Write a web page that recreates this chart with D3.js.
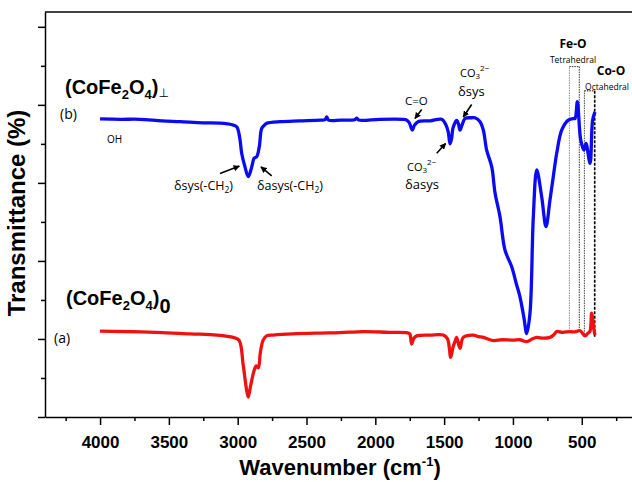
<!DOCTYPE html>
<html>
<head>
<meta charset="utf-8">
<script src="https://cdnjs.cloudflare.com/ajax/libs/d3/7.8.5/d3.min.js"></script>
<style>
  body { margin: 0; background: #fff; }
  svg { display: block; }
</style>
</head>
<body>
<svg id="chart" width="632" height="482"></svg>
<script>
// spectrum (b), blue
const waveB = [4000, 3850, 3710, 3550, 3419, 3250, 3128, 3040, 3007, 2985, 2971, 2947, 2923, 2898, 2881,
  2862, 2843, 2825, 2800, 2789, 2692, 2550, 2400, 2365, 2353, 2340, 2250, 2150, 2135, 2120, 1966, 1800,
  1777, 1755, 1740, 1731, 1715, 1690, 1600, 1518, 1486, 1470, 1457, 1445, 1436, 1409, 1395, 1385, 1370,
  1348, 1300, 1276, 1239, 1215, 1191, 1154, 1130, 1094, 1058, 1009, 975, 949, 920, 900, 876, 852, 827,
  791, 760, 731, 707, 682, 646, 598, 560, 549, 532, 508, 484, 469, 440, 421, 404];
const transB = [76.4, 76.3, 76.3, 75.9, 75.7, 75.4, 75.3, 74.9, 74.4, 71.5, 67.6, 64.1, 61.6, 64.1, 66.3,
  66.7, 69.3, 74.0, 75.0, 75.3, 75.7, 75.9, 76.1, 76.2, 76.9, 76.1, 76.1, 76.2, 76.6, 76.1, 76.3, 76.3,
  76.2, 75.5, 74.2, 73.5, 74.8, 75.7, 75.9, 76.3, 74.8, 73.0, 70.0, 71.5, 74.0, 76.0, 75.0, 73.5, 74.8,
  76.5, 76.7, 76.7, 75.7, 73.5, 68.4, 64.1, 57.4, 51.3, 42.8, 38.5, 34.1, 30.8, 25.4, 21.4, 26.7, 51.3, 63.3,
  56.4, 48.8, 55.6, 61.6, 67.6, 73.5, 76.1, 76.5, 76.5, 80.8, 71.1, 68.4, 70.1, 65.0, 76.1, 78.2];

// spectrum (a), red
const waveA = [4000, 3700, 3346, 3150, 3032, 2990, 2960, 2935, 2923, 2905, 2880, 2865, 2850, 2835, 2815,
  2790, 2741, 2600, 2400, 2257, 2087, 1900, 1772, 1750, 1736, 1720, 1699, 1600, 1506, 1475, 1452, 1435,
  1421, 1409, 1385, 1361, 1288, 1250, 1215, 1143, 1080, 997, 950, 900, 860, 827, 780, 731, 700, 682, 640,
  585, 550, 513, 476, 455, 440, 428, 411, 404];
const transA = [22.0, 21.8, 21.3, 21.0, 20.4, 19.7, 13.3, 6.9, 5.1, 8.2, 12.0, 13.1, 12.6, 16.6, 19.7,
  20.8, 21.0, 21.3, 21.5, 21.6, 21.9, 21.7, 21.6, 21.3, 18.7, 20.2, 20.8, 21.0, 21.0, 20.0, 15.3, 18.0,
  19.3, 20.4, 17.6, 20.4, 21.0, 20.6, 20.4, 19.6, 19.8, 19.7, 19.8, 19.3, 20.0, 20.4, 20.2, 20.4, 21.2,
  21.9, 21.7, 21.9, 21.8, 22.1, 20.8, 21.5, 22.0, 26.6, 22.3, 21.0];

const xMajor = [4000, 3500, 3000, 2500, 2000, 1500, 1000, 500];
const xMinor = [4250, 3750, 3250, 2750, 2250, 1750, 1250, 750, 250];
const yMajor = [0, 20, 40, 60, 80, 100];
const yMinor = [10, 30, 50, 70, 90];

// dashed boxes: [high wavenumber, low wavenumber, top, bottom left, bottom right]
const feoBand = [590, 518, 89.8, 22.6, 21.9];
const cooBand = [481, 406, 83.6, 20.6, 20.2];

// arrows: [tail wave, tail T, head wave, head T]
const arrows = [
  [3128, 62.4, 2988, 64.3],
  [2753, 61.8, 2831, 64.1],
  [1663, 78.8, 1712, 76.5],
  [1554, 67.6, 1489, 70.1],
  [1300, 80.1, 1361, 76.9]
];

const svg = d3.select("#chart");
const x = d3.scaleLinear().domain([4400, 135]).range([45, 632]);
const y = d3.scaleLinear().domain([0, 103.8]).range([417, 12]);
const sans = "'Liberation Sans', Arial, sans-serif";
const calib = "'Open Sans', 'Noto Sans', sans-serif";

// frame top line
svg.append("line")
  .attr("x1", x.range()[0]).attr("x2", x.range()[1])
  .attr("y1", y.range()[1]).attr("y2", y.range()[1])
  .attr("stroke", "#000").attr("stroke-width", 1.5);

// axes
const gx = svg.append("g").attr("transform", "translate(0,417)")
  .call(d3.axisBottom(x).tickValues(xMajor).tickSize(8).tickSizeOuter(0).tickFormat(d3.format("d")));
gx.selectAll("text").attr("y", 19).style("font-family", sans).style("font-size", "17px")
  .style("font-weight", "bold").attr("fill", "#000");
svg.append("g").attr("transform", "translate(0,417)")
  .call(d3.axisBottom(x).tickValues(xMinor).tickSize(4).tickFormat(""))
  .call(g => g.select(".domain").remove());

svg.append("g").attr("transform", "translate(45,0)")
  .call(d3.axisLeft(y).tickValues(yMajor).tickSize(7).tickSizeOuter(0).tickFormat(""));
svg.append("g").attr("transform", "translate(45,0)")
  .call(d3.axisLeft(y).tickValues(yMinor).tickSize(4).tickFormat(""))
  .call(g => g.select(".domain").remove());

svg.selectAll(".domain").attr("stroke-width", 1.5);
svg.selectAll(".tick line").attr("stroke-width", 1.5);

// axis titles
svg.append("text")
  .attr("transform", "translate(25,213) rotate(-90)")
  .attr("text-anchor", "middle")
  .style("font-family", sans).style("font-size", "24px").style("font-weight", "bold")
  .text("Transmittance (%)");

const xt = svg.append("text")
  .attr("x", 340).attr("y", 475).attr("text-anchor", "middle")
  .style("font-family", sans).style("font-size", "22px").style("font-weight", "bold");
xt.append("tspan").text("Wavenumber (cm");
xt.append("tspan").attr("dy", -9).style("font-size", "13px").text("-1");
xt.append("tspan").attr("dy", 9).text(")");

// dashed band boxes
function band(b, dashL, dashR, colL, colR, wR) {
  const xl = x(b[0]), xr = x(b[1]), yt = y(b[2]);
  svg.append("line").attr("x1", xl).attr("x2", xl).attr("y1", y(b[3])).attr("y2", yt)
    .attr("stroke", colL).attr("stroke-width", 1).attr("stroke-dasharray", dashL);
  svg.append("line").attr("x1", xl).attr("x2", xr).attr("y1", yt).attr("y2", yt)
    .attr("stroke", colR).attr("stroke-width", 1).attr("stroke-dasharray", dashL);
  svg.append("line").attr("x1", xr).attr("x2", xr).attr("y1", yt).attr("y2", y(b[4]))
    .attr("stroke", colR).attr("stroke-width", wR).attr("stroke-dasharray", dashR);
}
band(feoBand, "1.5,1", "1.5,1", "#888", "#333", 1);
band(cooBand, "1.5,1", "3,1.5", "#444", "#000", 1.6);

// spectra
const line = d3.line().x(d => x(d[0])).y(d => y(d[1])).curve(d3.curveCatmullRom.alpha(0.5));
svg.append("path").datum(d3.zip(waveA, transA)).attr("d", line)
  .attr("fill", "none").attr("stroke", "#f01010").attr("stroke-width", 3.3).attr("stroke-linejoin", "round");
svg.append("path").datum(d3.zip(waveB, transB)).attr("d", line)
  .attr("fill", "none").attr("stroke", "#0a0af5").attr("stroke-width", 3.3).attr("stroke-linejoin", "round");

// arrows
svg.append("defs").append("marker")
  .attr("id", "ah").attr("viewBox", "0 0 10 10").attr("refX", 9).attr("refY", 5)
  .attr("markerWidth", 4).attr("markerHeight", 4).attr("orient", "auto")
  .append("path").attr("d", "M0,0L10,5L0,10z").attr("fill", "#000");
svg.selectAll(".arrow").data(arrows).join("line").attr("class", "arrow")
  .attr("x1", d => x(d[0])).attr("y1", d => y(d[1]))
  .attr("x2", d => x(d[2])).attr("y2", d => y(d[3]))
  .attr("stroke", "#000").attr("stroke-width", 1.6).attr("marker-end", "url(#ah)");

// sample labels
function formula(xp, yp, tail) {
  const t = svg.append("text").attr("x", xp).attr("y", yp)
    .style("font-family", sans).style("font-size", "20px").style("font-weight", "bold");
  t.append("tspan").text("(CoFe");
  t.append("tspan").attr("dy", 5).style("font-size", "13px").text("2");
  t.append("tspan").attr("dy", -5).text("O");
  t.append("tspan").attr("dy", 5).style("font-size", "13px").text("4");
  t.append("tspan").attr("dy", -5).text(")");
  tail(t);
}
formula(65, 94, t => t.append("tspan").attr("dy", 3)
  .style("font-family", "'DejaVu Sans'").style("font-weight", "normal").style("font-size", "12px").text("⊥"));
formula(66, 305, t => t.append("tspan").attr("dy", 8).text("0"));

function label(xp, yp, txt, size, anchor, weight) {
  return svg.append("text").attr("x", xp).attr("y", yp).attr("text-anchor", anchor || "start")
    .style("font-family", calib).style("font-size", size + "px").style("font-weight", weight || "normal")
    .text(txt);
}
label(60, 119, "(b)", 14);
label(54, 343, "(a)", 14);
label(107, 143, "OH", 10);

function chLabel(xp, txt) {
  const t = label(xp, 190, "", 12.5);
  t.append("tspan").text(txt + "(-CH");
  t.append("tspan").attr("dy", 3).style("font-size", "8.5px").text("2");
  t.append("tspan").attr("dy", -3).text(")");
}
chLabel(174, "δsys");
chLabel(257, "δasys");

label(405, 105, "C=O", 11.5);
function co3(xp, yp) {
  const t = label(xp, yp, "", 11);
  t.append("tspan").text("CO");
  t.append("tspan").attr("dy", 2).style("font-size", "8px").text("3");
  t.append("tspan").attr("dy", -8).style("font-size", "8px").text("2−");
}
co3(407, 171);
label(405, 189, "δasys", 13);
co3(460, 77);
label(458, 96, "δsys", 13);

label(573, 48, "Fe-O", 12, "middle", "bold");
label(573, 62.5, "Tetrahedral", 8.5, "middle");
label(611, 75, "Co-O", 12, "middle", "bold");
label(607, 90, "Octahedral", 8.5, "middle");
</script>
</body>
</html>
